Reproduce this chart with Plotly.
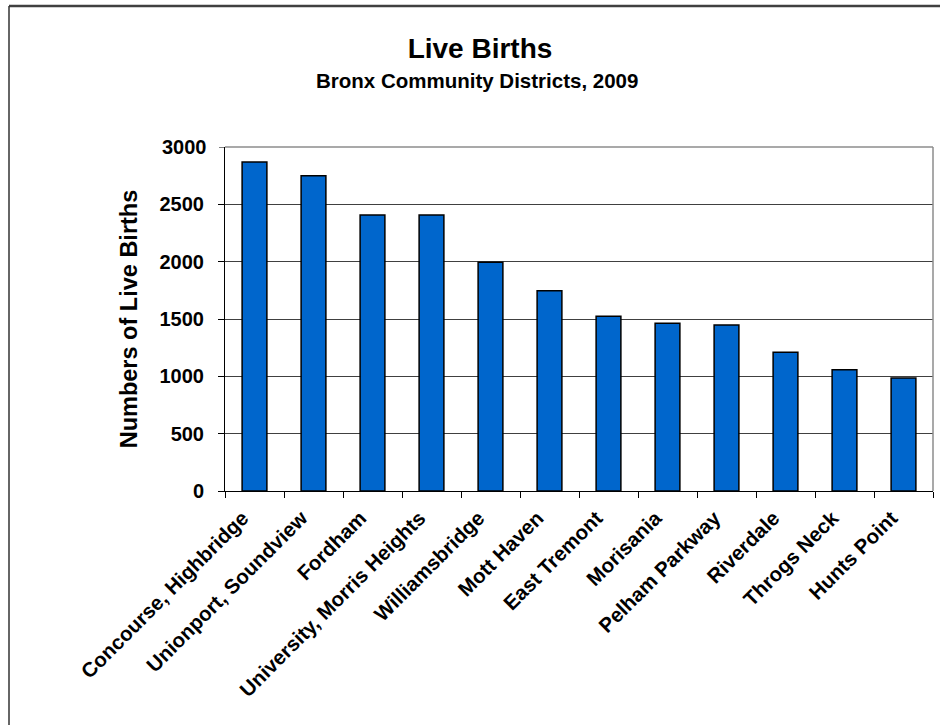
import plotly.graph_objects as go

# Live births by Bronx community district, 2009
districts = [
    "Concourse, Highbridge", "Unionport, Soundview", "Fordham",
    "University, Morris Heights", "Williamsbridge", "Mott Haven",
    "East Tremont", "Morisania", "Pelham Parkway", "Riverdale",
    "Throgs Neck", "Hunts Point",
]
live_births = [2869, 2749, 2406, 2406, 1995, 1746, 1523, 1462, 1447, 1209, 1058, 985]
y_ticks = [0, 500, 1000, 1500, 2000, 2500, 3000]

W, H = 940, 725
L, R, T, B = 225, 7, 147, 234
pw, ph = W - L - R, H - T - B

def px_x(x):
    return (x - L) / pw

def px_y(y):
    return (H - B - y) / ph

FONT = "Liberation Sans, Arial, sans-serif"

fig = go.Figure(
    go.Bar(
        x=districts,
        y=live_births,
        marker=dict(color="#0066CC", line=dict(color="#000000", width=1.5)),
        showlegend=False,
    )
)

fig.update_layout(
    width=W,
    height=H,
    margin=dict(l=L, r=R, t=T, b=B),
    paper_bgcolor="white",
    plot_bgcolor="white",
    bargap=0.58,
    font=dict(family=FONT, color="black"),
    title=dict(
        text="<b>Live Births</b>",
        font=dict(size=28, family=FONT, color="black"),
        x=480 / W, xref="container", xanchor="center",
        y=1 - 48 / H, yref="container", yanchor="middle",
    ),
    annotations=[
        dict(
            text="<b>Bronx Community Districts, 2009</b>",
            x=px_x(477), y=px_y(80), xref="paper", yref="paper",
            xanchor="center", yanchor="middle", showarrow=False,
            font=dict(size=20.5, family=FONT, color="black"),
        )
    ],
    shapes=[
        # chart frame (top and left edges)
        dict(type="line", xref="paper", yref="paper",
             x0=px_x(9), x1=px_x(W + 5), y0=px_y(6), y1=px_y(6),
             line=dict(color="#404040", width=2.5)),
        dict(type="line", xref="paper", yref="paper",
             x0=px_x(9), x1=px_x(9), y0=px_y(6), y1=px_y(H + 5),
             line=dict(color="#333333", width=1.5)),
        # plot area right edge
        dict(type="line", xref="paper", yref="paper",
             x0=1, x1=1, y0=0, y1=1,
             line=dict(color="#8c8c8c", width=1.5)),
        # plot area top edge (lighter than the inner gridlines)
        dict(type="line", xref="paper", yref="paper",
             x0=0, x1=1, y0=1, y1=1,
             line=dict(color="#8c8c8c", width=1.5)),
    ],
)

fig.update_xaxes(
    type="category",
    tickangle=-45,
    tickfont=dict(size=20.5, family=FONT, color="black", weight="bold"),
    showline=True, linecolor="black", linewidth=1,
    ticks="outside", ticklen=6, tickcolor="black", tickwidth=1,
    tickson="boundaries",
    ticklabelshift=-12,
    ticklabelstandoff=6,
    showgrid=False,
)

fig.update_yaxes(
    range=[0, 3000],
    tickvals=y_ticks[:-1],
    ticktext=[str(v) for v in y_ticks[:-1]],
    tickfont=dict(size=20, family=FONT, color="black", weight="bold"),
    showline=True, linecolor="black", linewidth=1,
    ticks="outside", ticklen=6, tickcolor="black", tickwidth=1,
    ticklabelstandoff=10,
    showgrid=True, gridcolor="#404040", gridwidth=1,
    zeroline=False,
    title=dict(
        text="<b>Numbers of Live Births</b>",
        font=dict(size=23.5, family=FONT, color="black"),
        standoff=15,
    ),
)

# top tick label and tick drawn separately so the top edge keeps its lighter line
fig.add_annotation(
    text="<b>%d</b>" % y_ticks[-1], xref="paper", yref="y",
    x=px_x(225 - 16), y=y_ticks[-1], xanchor="right", yanchor="middle",
    showarrow=False, font=dict(size=20, family=FONT, color="black"),
)
fig.add_shape(
    type="line", xref="paper", yref="y",
    x0=px_x(219), x1=0, y0=y_ticks[-1], y1=y_ticks[-1],
    line=dict(color="black", width=1),
)

fig.write_html("out.html")
